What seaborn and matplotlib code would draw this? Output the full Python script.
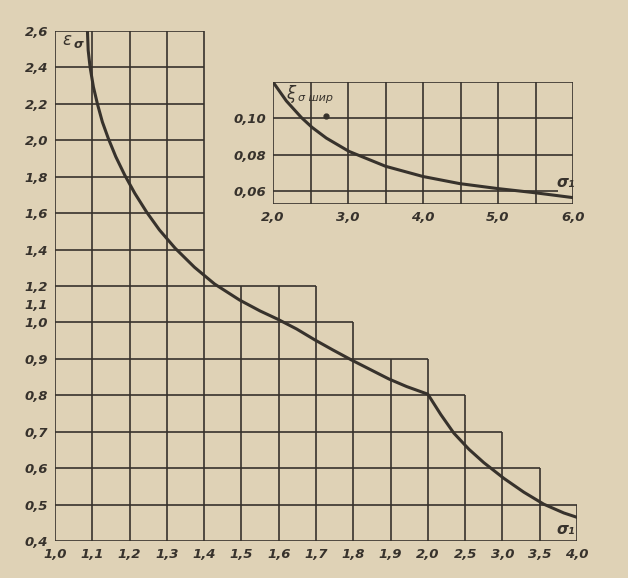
import numpy as np
import pandas as pd
import matplotlib
matplotlib.use("Agg")
import matplotlib.pyplot as plt
import seaborn as sns

# main curve  (sigma_1 -> eps_sigma)
sig1 = [1.087, 1.089, 1.094, 1.103, 1.114, 1.127, 1.143, 1.163, 1.187, 1.214, 1.246,
        1.280, 1.322, 1.374, 1.428, 1.495, 1.550, 1.597, 1.648, 1.697, 1.746, 1.795,
        1.845, 1.895, 1.943, 2.0, 2.174, 2.349, 2.55, 2.751, 3.019, 3.287, 3.555, 3.823, 4.0]
eps = [2.60, 2.494, 2.403, 2.293, 2.198, 2.101, 2.010, 1.910, 1.809, 1.709, 1.605,
       1.508, 1.408, 1.303, 1.211, 1.123, 1.063, 1.018, 0.982, 0.952, 0.924, 0.897,
       0.871, 0.845, 0.824, 0.803, 0.747, 0.696, 0.652, 0.615, 0.572, 0.534, 0.501, 0.477, 0.465]

# inset curve (sigma_1 -> xi_sigma shir)
sig1_in = [2.0, 2.178, 2.378, 2.52, 2.711, 3.013, 3.502, 4.0, 4.489, 4.991, 5.489, 6.0]
xi_in = [0.120, 0.1096, 0.1005, 0.0951, 0.0892, 0.0819, 0.0737, 0.0681, 0.0642, 0.0615, 0.0592, 0.0565]

x_ticks = [1.0, 1.1, 1.2, 1.3, 1.4, 1.5, 1.6, 1.7, 1.8, 1.9, 2.0, 2.5, 3.0, 3.5, 4.0]
y_ticks = [0.4, 0.5, 0.6, 0.7, 0.8, 0.9, 1.0, 1.1, 1.2, 1.4, 1.6, 1.8, 2.0, 2.2, 2.4, 2.6]
y_grid = [0.4, 0.5, 0.6, 0.7, 0.8, 0.9, 1.0, 1.2, 1.4, 1.6, 1.8, 2.0, 2.2, 2.4, 2.6]
# right end of each horizontal line / top end of each vertical line (staircase grid)
h_right = [4.0, 4.0, 3.5, 3.0, 2.5, 2.0, 1.8, 1.7, 1.4, 1.4, 1.4, 1.4, 1.4, 1.4, 1.4]
v_top = [2.6, 2.6, 2.6, 2.6, 2.6, 1.2, 1.2, 1.2, 1.0, 0.9, 0.9, 0.8, 0.7, 0.6, 0.5]

xin_ticks = [2.0, 3.0, 4.0, 5.0, 6.0]
xin_grid = [2.0, 2.5, 3.0, 3.5, 4.0, 4.5, 5.0, 5.5, 6.0]
yin_ticks = [0.06, 0.08, 0.10]

def comma(v, fmt):
    return (fmt % v).replace(".", ",")

# piecewise scales of the nomogram
def fx(x):
    x = np.asarray(x, float)
    return np.where(x <= 2.0, (x - 1.0) / 0.1, 10 + (x - 2.0) / 0.5)
def fx_inv(t):
    t = np.asarray(t, float)
    return np.where(t <= 10, 1.0 + 0.1 * t, 2.0 + 0.5 * (t - 10))
def fy(y):
    y = np.asarray(y, float)
    return np.where(y <= 1.0, (y - 0.4) / 0.1, 6 + (y - 1.0) / 0.2)
def fy_inv(t):
    t = np.asarray(t, float)
    return np.where(t <= 6, 0.4 + 0.1 * t, 1.0 + 0.2 * (t - 6))

sns.set_style("white")
plt.rcParams['font.family'] = ['DejaVu Sans']
paper = "#dfd2b6"
ink = "#37322c"
tfont = dict(fontsize=9.5, fontweight="bold", fontstyle="italic", color=ink)
glw = 1.2

fig = plt.figure(figsize=(6.28, 5.78), dpi=100)
fig.patch.set_facecolor(paper)

ax = fig.add_axes([55 / 628, 1 - 541 / 578, (577 - 55) / 628, (541 - 31) / 578])
ax.set_facecolor("none")
ax.set_xscale("function", functions=(fx, fx_inv))
ax.set_yscale("function", functions=(fy, fy_inv))
ax.set_xlim(1.0, 4.0)
ax.set_ylim(0.4, 2.6)
for s in ax.spines.values():
    s.set_visible(False)

ax.hlines(y_grid, 1.0, h_right, color=ink, lw=glw)
ax.vlines(x_ticks, 0.4, v_top, color=ink, lw=glw)

df = pd.DataFrame({"sig1": sig1, "eps": eps})
sns.lineplot(data=df, x="sig1", y="eps", ax=ax, color=ink, lw=2.2, sort=False)

ax.set_xticks(x_ticks)
ax.set_xticklabels([comma(v, "%.1f") for v in x_ticks], **tfont)
ax.set_yticks(y_ticks)
ax.set_yticklabels([comma(v, "%.1f") for v in y_ticks], **tfont)
ax.tick_params(length=0, pad=5)
ax.set_xlabel("")
ax.set_ylabel("")
ax.text(1.02, 2.5, "ε", fontsize=12, fontstyle="italic", color=ink, va="bottom")
ax.text(1.05, 2.49, "σ", fontsize=9, fontstyle="italic", fontweight="bold", color=ink, va="bottom")
ax.text(3.72, 0.41, "σ₁", fontsize=11, fontstyle="italic", fontweight="bold", color=ink, va="bottom")

# inset
ai = fig.add_axes([273 / 628, 1 - 204 / 578, 300 / 628, 122 / 578])
ai.set_facecolor("none")
ai.set_xlim(2.0, 6.0)
ai.set_ylim(0.053, 0.12)
for s in ai.spines.values():
    s.set_visible(False)
ai.vlines(xin_grid, 0.053, 0.12, color=ink, lw=glw)
ai.hlines([0.053, 0.08, 0.10, 0.12], 2.0, 6.0, color=ink, lw=glw)
ai.hlines([0.06], 2.0, 5.8, color=ink, lw=glw)

di = pd.DataFrame({"sig1": sig1_in, "xi": xi_in})
sns.lineplot(data=di, x="sig1", y="xi", ax=ai, color=ink, lw=2.2, sort=False)
ai.plot([2.71], [0.1015], "o", color=ink, ms=3.5)

ai.set_xticks(xin_ticks)
ai.set_xticklabels([comma(v, "%.1f") for v in xin_ticks], **tfont)
ai.set_yticks(yin_ticks)
ai.set_yticklabels([comma(v, "%.2f") for v in yin_ticks], **tfont)
ai.tick_params(length=0, pad=5)
ai.set_xlabel("")
ai.set_ylabel("")
ai.text(2.18, 0.1085, "ξ", fontsize=12, fontstyle="italic", color=ink, va="bottom")
ai.text(2.34, 0.1085, "σ шир", fontsize=8, fontstyle="italic", color=ink, va="bottom")
ai.text(5.78, 0.0605, "σ₁", fontsize=11, fontstyle="italic", fontweight="bold", color=ink, va="bottom")

fig.savefig("out.png", dpi=100, facecolor=paper)
